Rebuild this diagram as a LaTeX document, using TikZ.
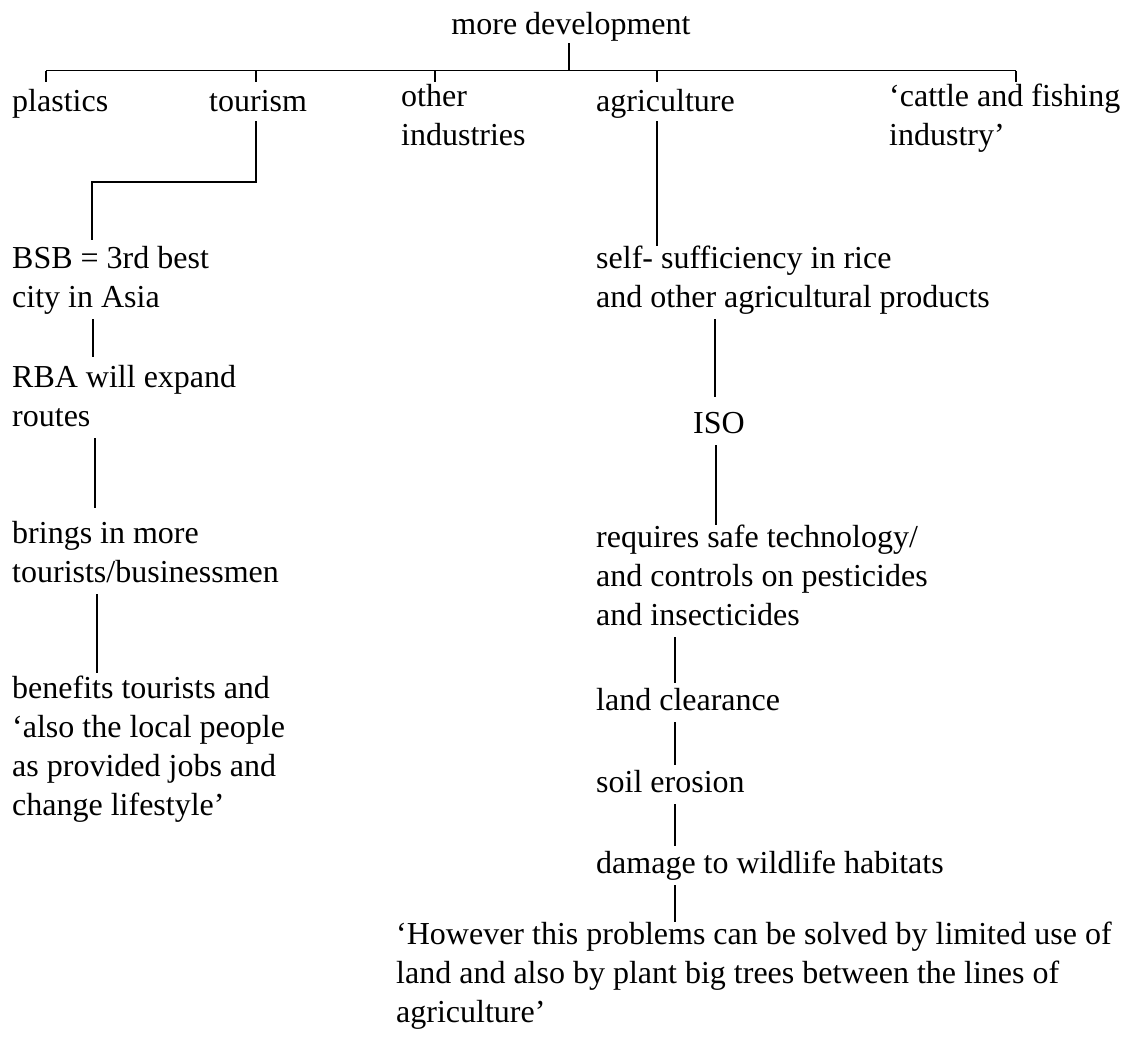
\documentclass[tikz,border=0pt]{standalone}
\usepackage{fontspec}
\setmainfont{Liberation Serif}
\begin{document}
\begin{tikzpicture}[x=1pt,y=-1pt,
  % a node is placed by the baseline of its first line
  lbl/.style={anchor=north west, yshift=27.3pt, inner sep=0pt, align=left,
    font=\fontsize{32}{39}\selectfont,
    execute at begin node=\strut, execute at end node=\strut},
  link/.style={line width=1.8pt}]
\useasboundingbox (0,0) rectangle (1130,1039);

% root and first level
\node[lbl, anchor=north] (md) at (571,34) {more development};
\node[lbl] (plast)  at (12,111)  {plastics};
\node[lbl] (tour)   at (209,111) {tourism};
\node[lbl] (other)  at (401,111) {other\\industries};
\node[lbl] (agri)   at (596,111) {agriculture};
\node[lbl] (cattle) at (889,111) {‘cattle and fishing\\industry’};

% tourism branch
\node[lbl] (bsb)    at (12,273) {BSB = 3rd best\\city in Asia};
\node[lbl] (rba)    at (12,392) {RBA will expand\\routes};
\node[lbl] (brings) at (12,548) {brings in more\\tourists/businessmen};
\node[lbl] (benef)  at (12,703) {benefits tourists and\\‘also the local people\\as provided jobs and\\change lifestyle’};

% agriculture branch
\node[lbl] (self)   at (596,273) {self- sufficiency in rice\\and other agricultural products};
\node[lbl] (iso)    at (693,433) {ISO};
\node[lbl] (req)    at (596,552) {requires safe technology/\\and controls on pesticides\\and insecticides};
\node[lbl] (land)   at (596,710) {land clearance};
\node[lbl] (soil)   at (596,792) {soil erosion};
\node[lbl] (damage) at (596,873) {damage to wildlife habitats};
\node[lbl] (however) at (396,949) {‘However this problems can be solved by limited use of\\land and also by plant big trees between the lines of\\agriculture’};

% bracket under the root
\coordinate (bl) at (46,70.5);
\coordinate (br) at (1016,70.5);
\draw[link] (bl) -- (br);
\draw[link, shorten <=-3pt] (md.south -| 569,0) -- (bl -| 569,0);
\draw[link, shorten >=2pt] (bl) -- (plast.north -| bl);
\draw[link, shorten >=2pt] (bl -| 256,0) -- (tour.north -| 256,0);
\draw[link, shorten >=2pt] (bl -| 435,0) -- (other.north -| 435,0);
\draw[link, shorten >=2pt] (bl -| 657,0) -- (agri.north -| 657,0);
\draw[link, shorten >=2pt] (br) -- (cattle.north -| br);

% tourism chain, stepping left to the column below
\coordinate (tbend) at (256,182);
\draw[link, shorten <=-2pt, shorten >=6pt] (tour.south -| tbend) -- (tbend) -| (bsb.north -| 92,0);
\draw[link, shorten >=8pt] (bsb.south -| 93,0) -- (rba.north -| 93,0);
\draw[link, shorten >=13pt] (rba.south -| 95,0) -- (brings.north -| 95,0);
\draw[link, shorten >=3pt] (brings.south -| 97,0) -- (benef.north -| 97,0);

% agriculture chain
\draw[link, shorten <=-2pt] (agri.south -| 657,0) -- (self.north -| 657,0);
\draw[link, shorten >=9pt] (self.south -| 715,0) -- (iso.north -| 715,0);
\draw[link] (iso.south -| 716,0) -- (req.north -| 716,0);
\draw[link] (req.south -| 675,0) -- (land.north -| 675,0);
\draw[link] (land.south -| 675,0) -- (soil.north -| 675,0);
\draw[link] (soil.south -| 675,0) -- (damage.north -| 675,0);
\draw[link] (damage.south -| 675,0) -- (however.north -| 675,0);
\end{tikzpicture}
\end{document}
